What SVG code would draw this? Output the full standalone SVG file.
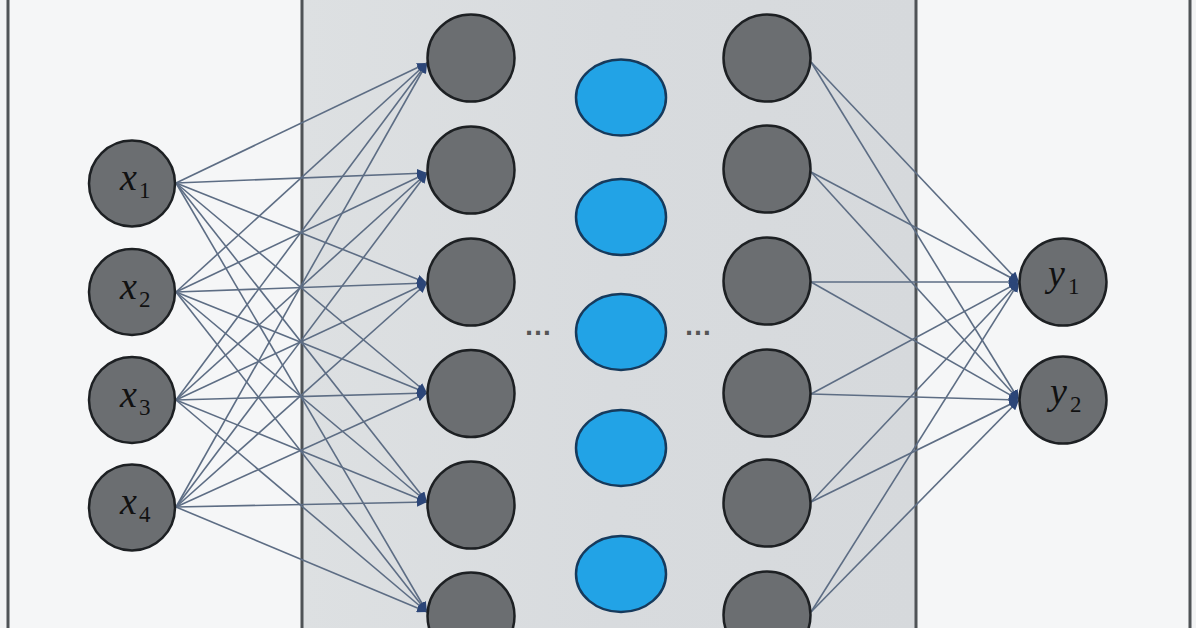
<svg xmlns="http://www.w3.org/2000/svg" width="1196" height="628" viewBox="0 0 1196 628">
  <defs>
    <marker id="arr" markerUnits="userSpaceOnUse" markerWidth="11" markerHeight="9" refX="10" refY="4.5" orient="auto">
      <path d="M0,0 L10,4.5 L0,9 z" fill="#2c4678"/>
    </marker>
    <linearGradient id="mid" x1="0" y1="0" x2="1" y2="0">
      <stop offset="0" stop-color="#dde0e2"/>
      <stop offset="0.5" stop-color="#d8dbde"/>
      <stop offset="1" stop-color="#d6d9dc"/>
    </linearGradient>
  </defs>
  <style>
    .node { fill: #6b6e71; stroke: #1d2023; stroke-width: 2.5; }
    .blue { fill: #22a3e6; stroke: #163a5c; stroke-width: 2.5; }
    .edge { stroke: #5d6d84; stroke-width: 1.6; fill: none; marker-end: url(#arr); }
    .border { stroke: #4f5356; stroke-width: 3; }
    .lbl { font-family: "Liberation Serif", "DejaVu Serif", serif; font-style: italic; font-size: 38px; fill: #111; }
    .sub { font-family: "Liberation Serif", "DejaVu Serif", serif; font-style: normal; font-size: 23px; fill: #111; }
    .dots { font-family: "Liberation Sans", Arial, sans-serif; font-size: 28px; font-weight: bold; fill: #555; }
  </style>

  <!-- background panels -->
  <rect x="0" y="0" width="1196" height="628" fill="#f2f3f4"/>
  <rect x="8" y="0" width="294" height="628" fill="#f5f6f7"/>
  <rect x="302" y="0" width="614" height="628" fill="url(#mid)"/>
  <rect x="916" y="0" width="274" height="628" fill="#f5f6f7"/>
  <g id="borders">
    <line class="border" x1="8" y1="0" x2="8" y2="628"/>
    <line class="border" x1="302" y1="0" x2="302" y2="628"/>
    <line class="border" x1="916" y1="0" x2="916" y2="628"/>
    <line class="border" x1="1190" y1="0" x2="1190" y2="628"/>
  </g>

  <g id="connectors">
    <!-- x1 -->
    <line class="edge" x1="176" y1="183" x2="427" y2="63"/>
    <line class="edge" x1="176" y1="183" x2="427" y2="173"/>
    <line class="edge" x1="176" y1="183" x2="427" y2="283"/>
    <line class="edge" x1="176" y1="183" x2="427" y2="393"/>
    <line class="edge" x1="176" y1="183" x2="427" y2="502"/>
    <line class="edge" x1="176" y1="183" x2="427" y2="612"/>
    <!-- x2 -->
    <line class="edge" x1="176" y1="292" x2="427" y2="63"/>
    <line class="edge" x1="176" y1="292" x2="427" y2="173"/>
    <line class="edge" x1="176" y1="292" x2="427" y2="283"/>
    <line class="edge" x1="176" y1="292" x2="427" y2="393"/>
    <line class="edge" x1="176" y1="292" x2="427" y2="502"/>
    <line class="edge" x1="176" y1="292" x2="427" y2="612"/>
    <!-- x3 -->
    <line class="edge" x1="176" y1="400" x2="427" y2="63"/>
    <line class="edge" x1="176" y1="400" x2="427" y2="173"/>
    <line class="edge" x1="176" y1="400" x2="427" y2="283"/>
    <line class="edge" x1="176" y1="400" x2="427" y2="393"/>
    <line class="edge" x1="176" y1="400" x2="427" y2="502"/>
    <line class="edge" x1="176" y1="400" x2="427" y2="612"/>
    <!-- x4 -->
    <line class="edge" x1="176" y1="507" x2="427" y2="63"/>
    <line class="edge" x1="176" y1="507" x2="427" y2="173"/>
    <line class="edge" x1="176" y1="507" x2="427" y2="283"/>
    <line class="edge" x1="176" y1="507" x2="427" y2="393"/>
    <line class="edge" x1="176" y1="507" x2="427" y2="502"/>
    <line class="edge" x1="176" y1="507" x2="427" y2="612"/>
    <!-- hidden 2 to outputs -->
    <line class="edge" x1="811" y1="62" x2="1019" y2="282"/>
    <line class="edge" x1="811" y1="62" x2="1019" y2="400"/>
    <line class="edge" x1="811" y1="172" x2="1019" y2="282"/>
    <line class="edge" x1="811" y1="172" x2="1019" y2="400"/>
    <line class="edge" x1="811" y1="282" x2="1019" y2="282"/>
    <line class="edge" x1="811" y1="282" x2="1019" y2="400"/>
    <line class="edge" x1="811" y1="394" x2="1019" y2="282"/>
    <line class="edge" x1="811" y1="394" x2="1019" y2="400"/>
    <line class="edge" x1="811" y1="502" x2="1019" y2="282"/>
    <line class="edge" x1="811" y1="502" x2="1019" y2="400"/>
    <line class="edge" x1="811" y1="612" x2="1019" y2="282"/>
    <line class="edge" x1="811" y1="612" x2="1019" y2="400"/>
  </g>

  <!-- input layer -->
  <g id="x1"><circle class="node" cx="132" cy="183.5" r="43"/><text class="lbl" x="120" y="190">x</text><text class="sub" x="139" y="198">1</text></g>
  <g id="x2"><circle class="node" cx="132" cy="292" r="43"/><text class="lbl" x="120" y="299">x</text><text class="sub" x="139" y="307">2</text></g>
  <g id="x3"><circle class="node" cx="132" cy="400" r="43"/><text class="lbl" x="120" y="407">x</text><text class="sub" x="139" y="415">3</text></g>
  <g id="x4"><circle class="node" cx="132" cy="507.5" r="43"/><text class="lbl" x="120" y="514">x</text><text class="sub" x="139" y="522">4</text></g>

  <!-- hidden layer 1 -->
  <g id="h1_1"><circle class="node" cx="471" cy="58" r="43.5"/></g>
  <g id="h1_2"><circle class="node" cx="471" cy="170" r="43.5"/></g>
  <g id="h1_3"><circle class="node" cx="471" cy="282" r="43.5"/></g>
  <g id="h1_4"><circle class="node" cx="471" cy="393.5" r="43.5"/></g>
  <g id="h1_5"><circle class="node" cx="471" cy="505" r="43.5"/></g>
  <g id="h1_6"><circle class="node" cx="471" cy="616" r="43.5"/></g>

  <!-- middle layer -->
  <g id="m1"><ellipse class="blue" cx="621" cy="97.5" rx="45" ry="38"/></g>
  <g id="m2"><ellipse class="blue" cx="621" cy="217" rx="45" ry="38"/></g>
  <g id="m3"><ellipse class="blue" cx="621" cy="332" rx="45" ry="38"/></g>
  <g id="m4"><ellipse class="blue" cx="621" cy="448" rx="45" ry="38"/></g>
  <g id="m5"><ellipse class="blue" cx="621" cy="574" rx="45" ry="38"/></g>
  <text class="dots" x="524" y="335">…</text>
  <text class="dots" x="684" y="335">…</text>

  <!-- hidden layer 2 -->
  <g id="h2_1"><circle class="node" cx="767" cy="58" r="43.5"/></g>
  <g id="h2_2"><circle class="node" cx="767" cy="169" r="43.5"/></g>
  <g id="h2_3"><circle class="node" cx="767" cy="281" r="43.5"/></g>
  <g id="h2_4"><circle class="node" cx="767" cy="393" r="43.5"/></g>
  <g id="h2_5"><circle class="node" cx="767" cy="503" r="43.5"/></g>
  <g id="h2_6"><circle class="node" cx="767" cy="615" r="43.5"/></g>

  <!-- outputs -->
  <g id="y1"><circle class="node" cx="1063" cy="282" r="43.5"/><text class="lbl" x="1048" y="286">y</text><text class="sub" x="1068" y="294">1</text></g>
  <g id="y2"><circle class="node" cx="1063" cy="400" r="43.5"/><text class="lbl" x="1050" y="404">y</text><text class="sub" x="1070" y="412">2</text></g>
</svg>
